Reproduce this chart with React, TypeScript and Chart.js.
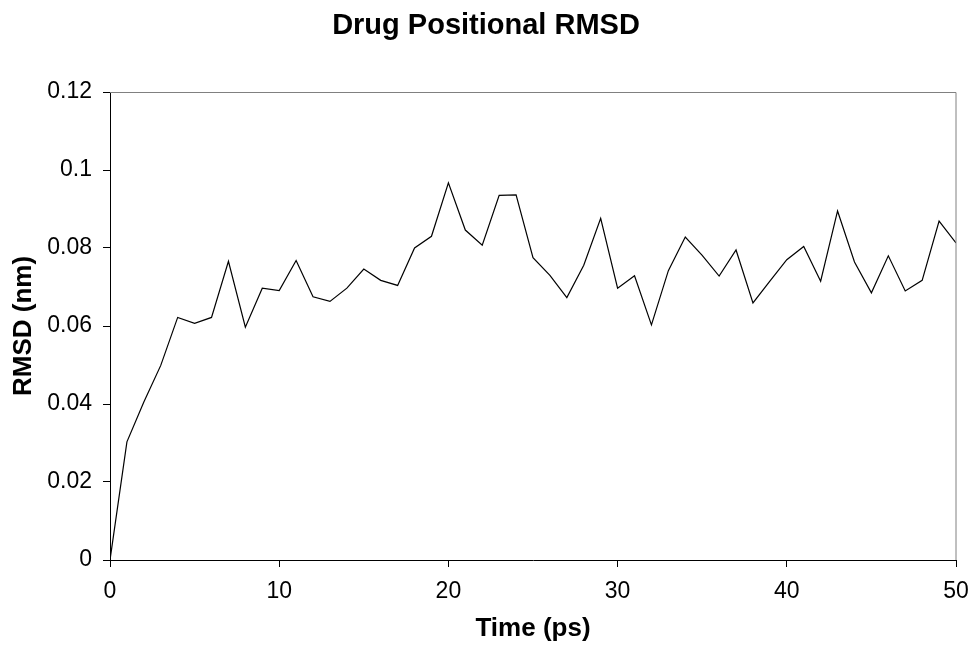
import React, { useEffect, useRef } from "react";
import { Chart, registerables } from "chart.js";

Chart.register(...registerables);

const times: number[] = [
  0, 1, 2, 3, 4, 5, 6, 7, 8, 9, 10, 11, 12, 13, 14, 15, 16, 17, 18, 19, 20,
  21, 22, 23, 24, 25, 26, 27, 28, 29, 30, 31, 32, 33, 34, 35, 36, 37, 38, 39, 40,
  41, 42, 43, 44, 45, 46, 47, 48, 49, 50,
];

const rmsd: number[] = [
  0.0, 0.0303, 0.0405, 0.0499, 0.0622, 0.0607, 0.0622, 0.0766, 0.0597, 0.0697,
  0.0691, 0.0768, 0.0675, 0.0663, 0.0697, 0.0746, 0.0717, 0.0704, 0.08, 0.083,
  0.0967, 0.0846, 0.0807, 0.0935, 0.0936, 0.0775, 0.073, 0.0673, 0.0756, 0.0876,
  0.0697, 0.0729, 0.0603, 0.0742, 0.0828, 0.0781, 0.0728, 0.0795, 0.0659, 0.0715,
  0.077, 0.0804, 0.0715, 0.0895, 0.0764, 0.0685, 0.078, 0.069, 0.0717, 0.0869,
  0.0813,
];

const titleText = "Drug Positional RMSD";
const xTitle = "Time (ps)";
const yTitle = "RMSD (nm)";

const FONT = "Arial, 'Liberation Sans', sans-serif";

const frame = {
  id: "frameLines",
  afterDraw(chart: any) {
    const { ctx, chartArea, width } = chart;
    ctx.save();
    ctx.strokeStyle = "#808080";
    ctx.lineWidth = 1;
    ctx.beginPath();
    ctx.moveTo(chartArea.left, Math.round(chartArea.top) + 0.5);
    ctx.lineTo(chartArea.right, Math.round(chartArea.top) + 0.5);
    ctx.lineTo(chartArea.right, chartArea.bottom);
    ctx.stroke();
    // chart title centred over the whole chart
    ctx.fillStyle = "#000";
    ctx.font = `bold 29px ${FONT}`;
    ctx.textAlign = "center";
    ctx.textBaseline = "alphabetic";
    ctx.fillText(titleText, width / 2, 34);
    ctx.restore();
  },
};

export default function App() {
  const ref = useRef<HTMLCanvasElement | null>(null);

  useEffect(() => {
    document.body.style.margin = "0";
    if (!ref.current) return;
    const chart = new Chart(ref.current, {
      type: "line",
      data: {
        datasets: [
          {
            data: times.map((t, i) => ({ x: t, y: rmsd[i] })),
            borderColor: "#000",
            borderWidth: 1.2,
            pointRadius: 0,
            tension: 0,
            fill: false,
          },
        ],
      },
      options: {
        animation: false,
        responsive: false,
        layout: { padding: { left: 0, right: 16, top: 92, bottom: 0 } },
        plugins: {
          legend: { display: false },
          tooltip: { enabled: false },
          title: { display: false },
        },
        scales: {
          x: {
            type: "linear",
            min: 0,
            max: 50,
            afterFit(scale: any) {
              scale.height = 85;
              scale.paddingRight = 0;
              scale.paddingLeft = 0;
            },
            ticks: {
              stepSize: 10,
              color: "#000",
              font: { family: FONT, size: 23 },
              padding: 11,
              maxRotation: 0,
            },
            grid: {
              drawOnChartArea: false,
              tickLength: 7,
              color: "#000",
            },
            border: { color: "#000", width: 1 },
            title: {
              display: true,
              text: xTitle,
              color: "#000",
              font: { family: FONT, size: 26, weight: "bold" },
              padding: { top: 0, bottom: 1 },
            },
          },
          y: {
            type: "linear",
            min: 0,
            max: 0.12,
            afterFit(scale: any) {
              scale.width = 110;
              scale.paddingTop = 0;
              scale.paddingBottom = 0;
            },
            ticks: {
              stepSize: 0.02,
              color: "#000",
              font: { family: FONT, size: 23 },
              padding: 11,
              callback: (v: any) => String(Number(Number(v).toFixed(2))),
            },
            grid: {
              drawOnChartArea: false,
              tickLength: 7,
              color: "#000",
            },
            border: { color: "#000", width: 1 },
            title: {
              display: true,
              text: yTitle,
              color: "#000",
              font: { family: FONT, size: 26, weight: "bold" },
              padding: { top: 8, bottom: 0 },
            },
          },
        },
      },
      plugins: [frame],
    });
    return () => chart.destroy();
  }, []);

  return (
    <div style={{ width: 972, height: 645, background: "#fff" }}>
      <canvas ref={ref} width={972} height={645} />
    </div>
  );
}
